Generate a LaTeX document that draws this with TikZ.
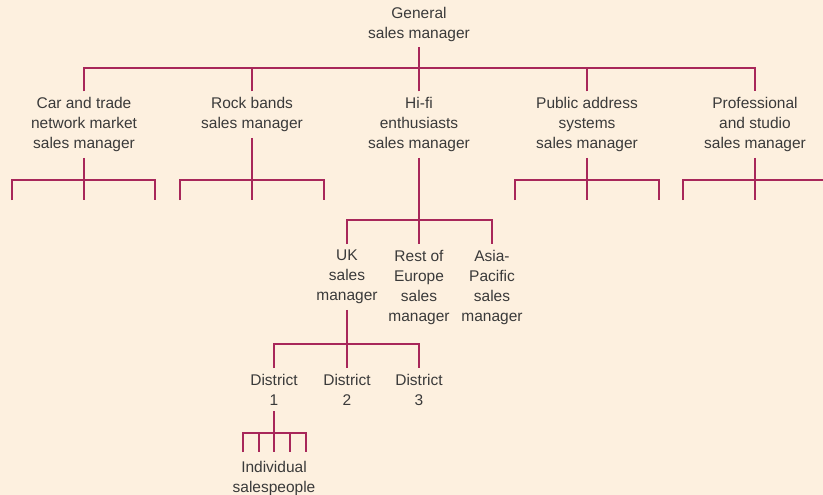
\documentclass[tikz,border=0pt]{standalone}
\usepackage{fontspec}
\setmainfont{Liberation Sans}
\definecolor{bg}{HTML}{FDF0DF}
\definecolor{ln}{HTML}{A8275A}
\definecolor{tx}{HTML}{3A3A3A}
\begin{document}
\begin{tikzpicture}[x=1pt,y=-1pt,
  lbl/.style={anchor=north,align=center,inner sep=0pt,outer sep=6pt,text=tx,font=\fontsize{15.5}{20}\selectfont},
  conn/.style={draw=ln,line width=2.4pt}]
\fill[bg] (0,0) rectangle (823,495);
\useasboundingbox (0,0) rectangle (823,495);
% nodes
\node[lbl] (gen) at (419,1) {General\\sales manager};
\node[lbl] (car) at (84,91.5) {Car and trade\\network market\\sales manager};
\node[lbl] (rock) at (252,91.5) {Rock bands\\sales manager};
\node[lbl] (hifi) at (419,91.5) {Hi-fi\\enthusiasts\\sales manager};
\node[lbl] (pa) at (587,91.5) {Public address\\systems\\sales manager};
\node[lbl] (pro) at (755,91.5) {Professional\\and studio\\sales manager};
\node[lbl] (uk) at (347,244) {UK\\sales\\manager};
\node[lbl] (eu) at (419,244) {Rest of\\Europe\\sales\\manager};
\node[lbl] (ap) at (492,244) {Asia-\\Pacific\\sales\\manager};
\node[lbl] (d1) at (274,368) {District\\1};
\node[lbl] (d2) at (347,368) {District\\2};
\node[lbl] (d3) at (419,368) {District\\3};
\node[lbl] (ind) at (274,455) {Individual\\salespeople};
% junction coordinates
\coordinate (jgen) at (419,68);
\coordinate (jcar) at (84,180);
\coordinate (car1) at (12,200);
\coordinate (car2) at (84,200);
\coordinate (car3) at (155,200);
\coordinate (jrock) at (252,180);
\coordinate (rock1) at (180,200);
\coordinate (rock2) at (252,200);
\coordinate (rock3) at (324,200);
\coordinate (jpa) at (587,180);
\coordinate (pa1) at (515,200);
\coordinate (pa2) at (587,200);
\coordinate (pa3) at (659,200);
\coordinate (jpro) at (755,180);
\coordinate (pro1) at (683,200);
\coordinate (pro2) at (755,200);
\coordinate (pro3) at (823,180);
\coordinate (jhifi) at (419,220);
\coordinate (juk) at (347,344);
\coordinate (jd1) at (274,433);
\coordinate (s1) at (243,452);
\coordinate (s2) at (259,452);
\coordinate (s3) at (274,452);
\coordinate (s4) at (290,452);
\coordinate (s5) at (306,452);
% top level
\draw[conn] (gen.south) -- (jgen);
\draw[conn] (car.north) -- (car.north |- jgen) -- (pro.north |- jgen) -- (pro.north);
\foreach \n in {rock,hifi,pa} \draw[conn] (\n.north) -- (\n.north |- jgen);
% car
\draw[conn] (car.south) -- (car2);
\draw[conn] (car1) -- (car1 |- jcar) -- (car3 |- jcar) -- (car3);
% rock
\draw[conn] (rock.south) -- (rock2);
\draw[conn] (rock1) -- (rock1 |- jrock) -- (rock3 |- jrock) -- (rock3);
% public address
\draw[conn] (pa.south) -- (pa2);
\draw[conn] (pa1) -- (pa1 |- jpa) -- (pa3 |- jpa) -- (pa3);
% professional
\draw[conn] (pro.south) -- (pro2);
\draw[conn] (pro1) -- (pro1 |- jpro) -- (pro3);
% hi-fi
\draw[conn] (hifi.south) -- (eu.north);
\draw[conn] (uk.north) -- (uk.north |- jhifi) -- (ap.north |- jhifi) -- (ap.north);
% UK
\draw[conn] (uk.south) -- (d2.north);
\draw[conn] (d1.north) -- (d1.north |- juk) -- (d3.north |- juk) -- (d3.north);
% District 1
\draw[conn] (d1.south) -- (s3);
\draw[conn] (s1) -- (s1 |- jd1) -- (s5 |- jd1) -- (s5);
\draw[conn] (s2 |- jd1) -- (s2);
\draw[conn] (s4 |- jd1) -- (s4);
\end{tikzpicture}
\end{document}
